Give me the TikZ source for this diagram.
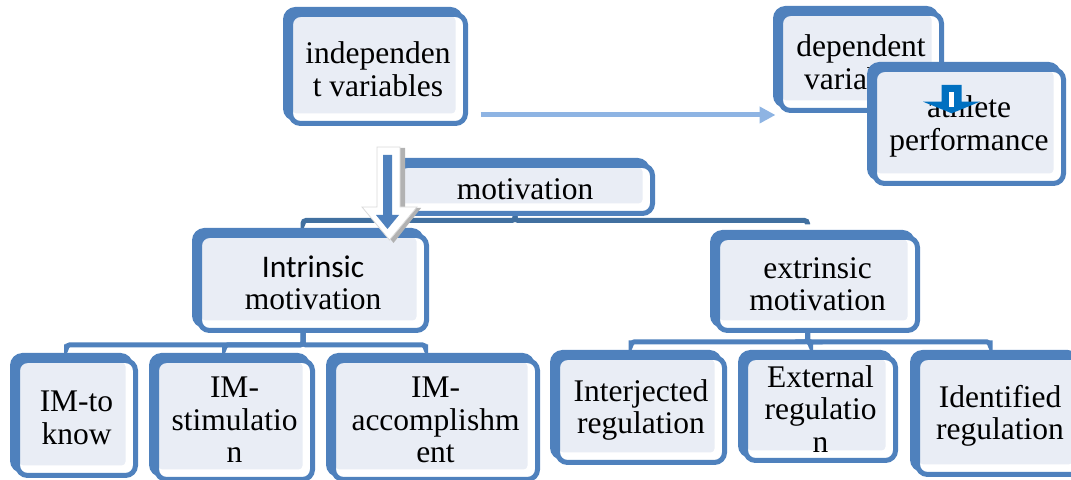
\documentclass[tikz,border=0pt]{standalone}
\usepackage{fontspec}
\setmainfont{Liberation Serif}
\newfontfamily\carlito{Carlito}
\usetikzlibrary{arrows.meta,backgrounds}
\definecolor{bblue}{RGB}{79,129,189}
\definecolor{busdark}{RGB}{65,112,160}
\definecolor{boxfill}{RGB}{233,237,245}
\definecolor{flowblue}{RGB}{142,180,227}
\definecolor{dblue}{RGB}{0,112,192}

\begin{document}
\begin{tikzpicture}[x=0.5pt, y=-0.5pt,
    box/.style={draw=bblue, line width=2.5pt, fill=white, rounded corners=5pt, inner sep=0pt, align=center,
                font=\fontsize{15.75}{16.25}\selectfont,
                preaction={fill=bblue, draw=bblue, line width=2.5pt, transform canvas={shift={(-2.5pt,2.5pt)}}},
                path picture={\fill[boxfill, rounded corners=2pt] ([shift={(1pt,-1pt)}]path picture bounding box.north west)
                              rectangle ([shift={(-5pt,5pt)}]path picture bounding box.south east);}},
    sz/.style 2 args={minimum width=#1*0.5pt, minimum height=#2*0.5pt},
    bus/.style={draw=bblue, line width=2.5pt, rounded corners=1.5pt},
    flow/.style={draw=flowblue, line width=2.5pt, -{Triangle[length=8pt,width=8pt]}}]
\useasboundingbox (0,0) rectangle (1071,480);
\clip (0,0) rectangle (1071,480);

\node[box, sz={175}{109}] (iv) at (378,69) {independen\\t variables};
\node[box, sz={161}{97}] (dv) at (861,62) {dependent\\variables};
\node[box, sz={189}{114}] (ap) at (969,126.5) {athlete\\performance};
\fill[dblue] (941.7,85) -- (961.7,85) -- (961.7,101.7) -- (980,101.7) -- (951.7,113.3) -- (923,101.7) -- (941.7,101.7) -- cycle;
\fill[white] (949.3,91.7) rectangle (954,107.3);

\node[box, sz={255}{48}] (mot) at (525,189.5) {motivation};
\node[box, sz={227}{95}] (intr) at (313,283) {{\carlito Intrinsic}\\motivation};
\node[box, sz={200}{93}] (extr) at (817.5,284) {extrinsic\\motivation};

\node[box, sz={118}{115}] (imk) at (76.5,418) {IM-to\\know};
\node[box, sz={156}{119}] (ims) at (234.5,420) {IM-\\stimulatio\\n};
\node[box, sz={204}{119}] (ima) at (435.5,420) {IM-\\accomplishm\\ent};
\node[box, sz={167}{105}] (inj) at (641,410) {Interjected\\regulation};
\node[box, sz={150}{103}] (ext) at (820.5,409) {External\\regulatio\\n};
\node[box, sz={165}{117}] (idf) at (1000,416) {Identified\\regulation};

\begin{pgfonlayer}{background}
  \draw[flow] ([shift={(12.5,-11)}]iv.south east) -- ([shift={(-2.5,2)}]dv.south west);
  \foreach \c in {intr,extr}
    \draw[bus, draw=busdark, shorten >=5.25pt] ([xshift=-5pt]mot.south) -- ++(0,4.5) -| ([xshift=-5pt]\c.north);
  \foreach \c in {imk,ims,ima}
    \draw[bus, shorten >=6.75pt] ([xshift=-5pt]intr.south) -- ++(0,12) -| ([xshift=-5pt]\c.north);
  \foreach \c in {inj,ext,idf}
    \draw[bus, shorten >=7.25pt] ([xshift=-5pt]extr.south) -- ++(0,9) -| ([xshift=-5pt]\c.north);
\end{pgfonlayer}

\fill[gray!60] (382,148) -- (405,148) -- (405,208) -- (421,208) -- (393.5,243) -- (366,208) -- (382,208) -- cycle;
\filldraw[fill=white, draw=gray!30, line width=0.4pt] (377,147) -- (400,147) -- (400,207) -- (417,207) -- (389.5,240) -- (362,207) -- (377,207) -- cycle;
\fill[bblue] (383,155) -- (392,155) -- (392,215) -- (399,215) -- (387.5,229) -- (376,215) -- (383,215) -- cycle;
\end{tikzpicture}
\end{document}
